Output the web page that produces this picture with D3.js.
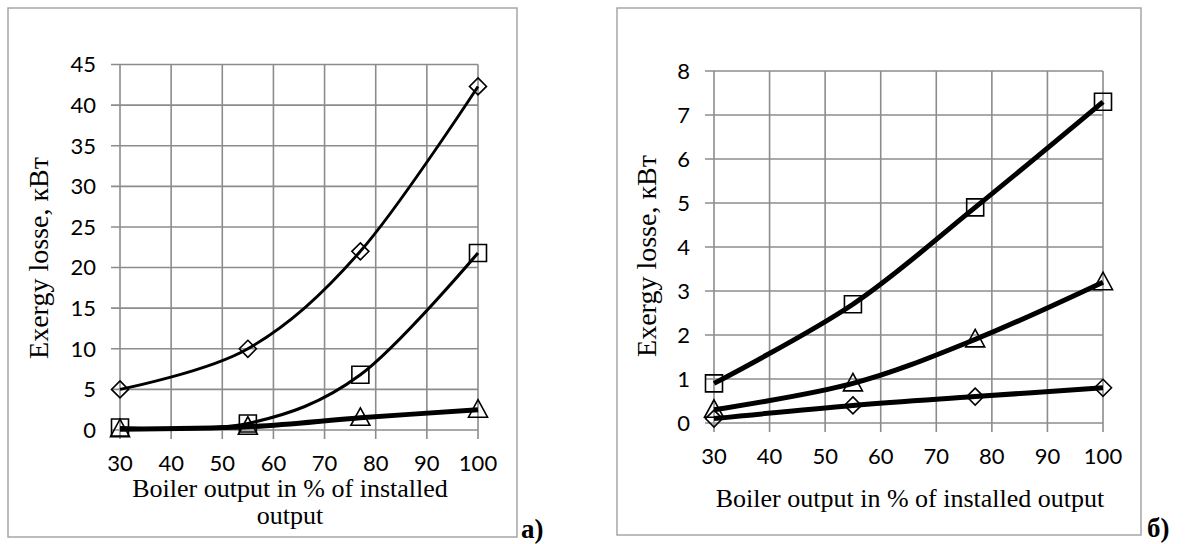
<!DOCTYPE html>
<html>
<head>
<meta charset="utf-8">
<script src="https://cdn.jsdelivr.net/npm/d3@7"></script>
<style>
  body { margin: 0; background: #fff; }
  svg { display: block; }
  .tick-label { font-family: Lato, "Open Sans", sans-serif; font-size: 22px; fill: #000; }
  .title { font-family: "Liberation Serif", "Times New Roman", serif; fill: #000; }
  .panel-tag { font-family: "Liberation Serif", "Times New Roman", serif; font-size: 27px; font-weight: bold; fill: #000; }
</style>
</head>
<body>
<svg id="chart" width="1190" height="544"></svg>
<script>
'use strict';

// boiler load, % of installed output
const loads = [30, 55, 77, 100];
const xTicks = [30, 40, 50, 60, 70, 80, 90, 100];

// panel a) exergy losses, kW
const aDiamond = [5, 10, 22, 42.3];
const aSquare = [0.3, 0.8, 6.8, 21.8];
const aTriangle = [0.1, 0.4, 1.5, 2.5];
const aYTicks = [0, 5, 10, 15, 20, 25, 30, 35, 40, 45];

// panel б) exergy losses, kW
const bSquare = [0.9, 2.7, 4.9, 7.3];
const bTriangle = [0.3, 0.9, 1.9, 3.2];
const bDiamond = [0.1, 0.4, 0.6, 0.8];
const bYTicks = [0, 1, 2, 3, 4, 5, 6, 7, 8];

const svg = d3.select('#chart');

const panels = [
  {
    frame: [8, 8, 517, 537],
    x0: 120, x1: 478, y0: 430, y1: 64.5,
    yMax: 45, yTicks: aYTicks,
    yTitleX: 48, yTitleY: 258,
    xTitle: ['Boiler output in % of installed', 'output'],
    xTitleX: 290, xTitleY: [497, 524],
    tag: 'a)', tagX: 521, tagY: 538,
    series: [
      {values: aDiamond, shape: 'diamond', width: 2.9},
      {values: aSquare, shape: 'square', width: 3.1},
      {values: aTriangle, shape: 'triangle', width: 5}
    ]
  },
  {
    frame: [617, 8, 1141, 535],
    x0: 714, x1: 1103, y0: 423, y1: 71,
    yMax: 8, yTicks: bYTicks,
    yTitleX: 656, yTitleY: 256,
    xTitle: ['Boiler output in % of installed output'],
    xTitleX: 910, xTitleY: [507],
    tag: 'б)', tagX: 1147, tagY: 537,
    series: [
      {values: bSquare, shape: 'square', width: 5},
      {values: bTriangle, shape: 'triangle', width: 5},
      {values: bDiamond, shape: 'diamond', width: 5}
    ]
  }
];

panels.forEach(drawPanel);

function drawPanel(p) {
  const g = svg.append('g');
  const [fx0, fy0, fx1, fy1] = p.frame;

  g.append('rect')
    .attr('x', fx0).attr('y', fy0)
    .attr('width', fx1 - fx0).attr('height', fy1 - fy0)
    .attr('fill', 'none')
    .attr('stroke', '#a6a6a6')
    .attr('stroke-width', 1.5);

  const x = d3.scaleLinear().domain([30, 100]).range([p.x0, p.x1]);
  const y = d3.scaleLinear().domain([0, p.yMax]).range([p.y0, p.y1]);

  // grid with tick overhang
  const grid = g.append('g')
    .attr('stroke', '#8c8c8c')
    .attr('stroke-width', 1.6);
  grid.selectAll('line.h')
    .data(p.yTicks)
    .join('line')
    .attr('x1', p.x0 - 9).attr('x2', p.x1)
    .attr('y1', d => y(d)).attr('y2', d => y(d));
  grid.selectAll('line.v')
    .data(xTicks)
    .join('line')
    .attr('x1', d => x(d)).attr('x2', d => x(d))
    .attr('y1', p.y1).attr('y2', p.y0 + 9);

  g.selectAll('text.ylab')
    .data(p.yTicks)
    .join('text')
    .attr('class', 'tick-label')
    .attr('x', p.x0 - 24)
    .attr('y', d => y(d))
    .attr('dy', '0.36em')
    .attr('text-anchor', 'end')
    .text(d => d);

  g.selectAll('text.xlab')
    .data(xTicks)
    .join('text')
    .attr('class', 'tick-label')
    .attr('x', d => x(d))
    .attr('y', p.y0 + 33)
    .attr('dy', '0.36em')
    .attr('text-anchor', 'middle')
    .text(d => d);

  // y title: baseline sits at yTitleX after rotation
  g.append('text')
    .attr('class', 'title')
    .style('font-size', '28px')
    .attr('transform', 'translate(' + p.yTitleX + ',' + p.yTitleY + ') rotate(-90)')
    .attr('text-anchor', 'middle')
    .text('Exergy losse, кВт');

  p.xTitle.forEach((line, i) => {
    g.append('text')
      .attr('class', 'title')
      .style('font-size', '26px')
      .attr('x', p.xTitleX)
      .attr('y', p.xTitleY[i])
      .attr('text-anchor', 'middle')
      .text(line);
  });

  g.append('text')
    .attr('class', 'panel-tag')
    .attr('x', p.tagX)
    .attr('y', p.tagY)
    .text(p.tag);

  const line = d3.line()
    .x((d, i) => x(loads[i]))
    .y(d => y(d))
    .curve(d3.curveCardinal.tension(0));

  p.series.forEach(s => {
    g.append('path')
      .datum(s.values)
      .attr('d', line)
      .attr('fill', 'none')
      .attr('stroke', '#000')
      .attr('stroke-width', s.width)
      .attr('stroke-linejoin', 'round');
  });

  p.series.forEach(s => {
    g.selectAll(null)
      .data(s.values)
      .join('path')
      .attr('transform', (d, i) => 'translate(' + x(loads[i]) + ',' + y(d) + ')')
      .attr('d', markerPath(s.shape))
      .attr('fill', 'none')
      .attr('stroke', '#000')
      .attr('stroke-width', 1.6);
  });
}

function markerPath(shape) {
  if (shape === 'square') {
    return 'M-8.5,-8.5H8.5V8.5H-8.5Z';
  }
  if (shape === 'triangle') {
    return 'M0,-10L9.5,7.5H-9.5Z';
  }
  return 'M0,-8.5L8.5,0L0,8.5L-8.5,0Z';
}
</script>
</body>
</html>
